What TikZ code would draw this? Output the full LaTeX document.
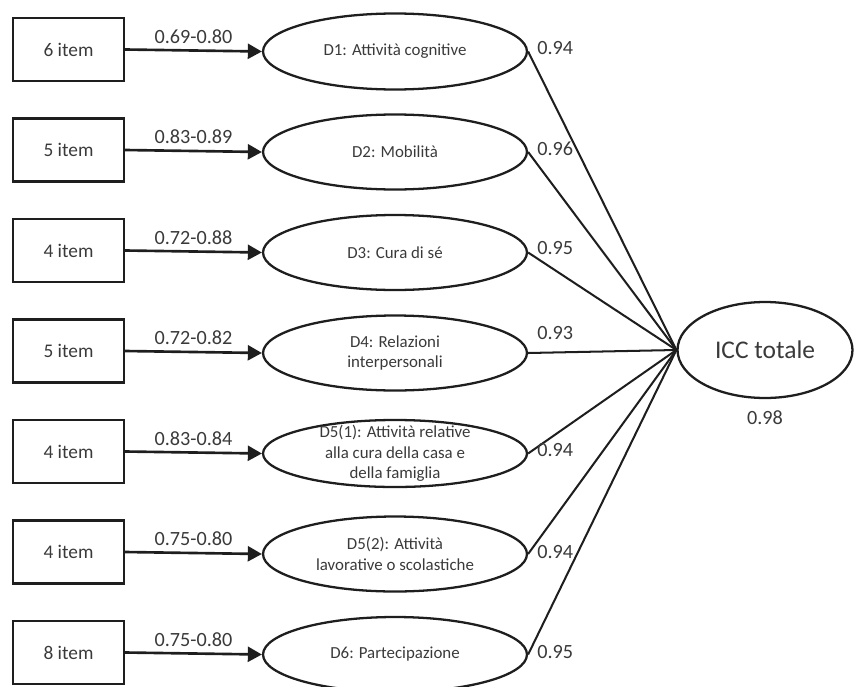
\documentclass[tikz,border=0pt]{standalone}
\usepackage{fontspec}
\setmainfont{Carlito}
\usetikzlibrary{shapes.geometric,arrows.meta}
\definecolor{inkgray}{HTML}{3A3A3A}
\definecolor{linegray}{HTML}{1E1E1E}

\begin{document}
\begin{tikzpicture}[x=0.02cm,y=-0.02cm,
  itembox/.style={draw=linegray, line width=1.4pt, minimum width=2.22cm,
    minimum height=1.26cm, text=inkgray, font=\fontsize{11}{13}\selectfont},
  dimnode/.style={draw=linegray, ellipse, line width=1.3pt, minimum width=5.28cm,
    inner sep=0pt},
  dimtext/.style={text=inkgray, align=center, font=\fontsize{9.6}{11.6}\selectfont},
  totnode/.style={draw=linegray, ellipse, line width=1.3pt, minimum width=3.5cm,
    minimum height=1.92cm, inner sep=0pt, text=inkgray, font=\fontsize{14.5}{16}\selectfont},
  loadlabel/.style={text=inkgray, font=\fontsize{11.5}{13}\selectfont},
  link/.style={draw=linegray, line width=1.5pt, -{Triangle[length=8pt,width=8.5pt]}},
  spoke/.style={draw=linegray, line width=1.15pt}]
\useasboundingbox (0,0) rectangle (854,686);

% total score
\node[totnode] (icc) at (765,350) {ICC totale};
\node[loadlabel] (icclabel) at (765,418) {0.98};

% domains
\foreach \n/\items/\load/\txt/\corr/\ly/\h in {
  1/6/0.69-0.80/{D1: Attività cognitive}/0.94/48/1.52,
  2/5/0.83-0.89/{D2: Mobilità}/0.96/149/1.5,
  3/4/0.72-0.88/{D3: Cura di sé}/0.95/248/1.5,
  4/5/0.72-0.82/{D4: Relazioni\\interpersonali}/0.93/333/1.5,
  5/4/0.83-0.84/{D5(1): Attività relative\\alla cura della casa e\\della famiglia}/0.94/450/1.34,
  6/4/0.75-0.80/{D5(2): Attività\\lavorative o scolastiche}/0.94/552/1.5,
  7/8/0.75-0.80/{D6: Partecipazione}/0.95/652/1.5}{
  \pgfmathsetmacro\y{49.5+100.5*(\n-1)}
  \node[itembox] (b\n) at (68.5,\y) {\items\ item};
  \node[dimnode, minimum height=\h cm] (d\n) at (395,\y+2) {};
  \node[dimtext] (t\n) at (d\n) {\txt};
  \draw[link] (b\n.east) -- node[above, loadlabel] {\load} (d\n.west);
  \draw[spoke] (d\n.east) -- (icc.west);
  \node[loadlabel, anchor=west, inner sep=0pt] (c\n) at (537,\ly) {\corr};
}
\end{tikzpicture}
\end{document}
